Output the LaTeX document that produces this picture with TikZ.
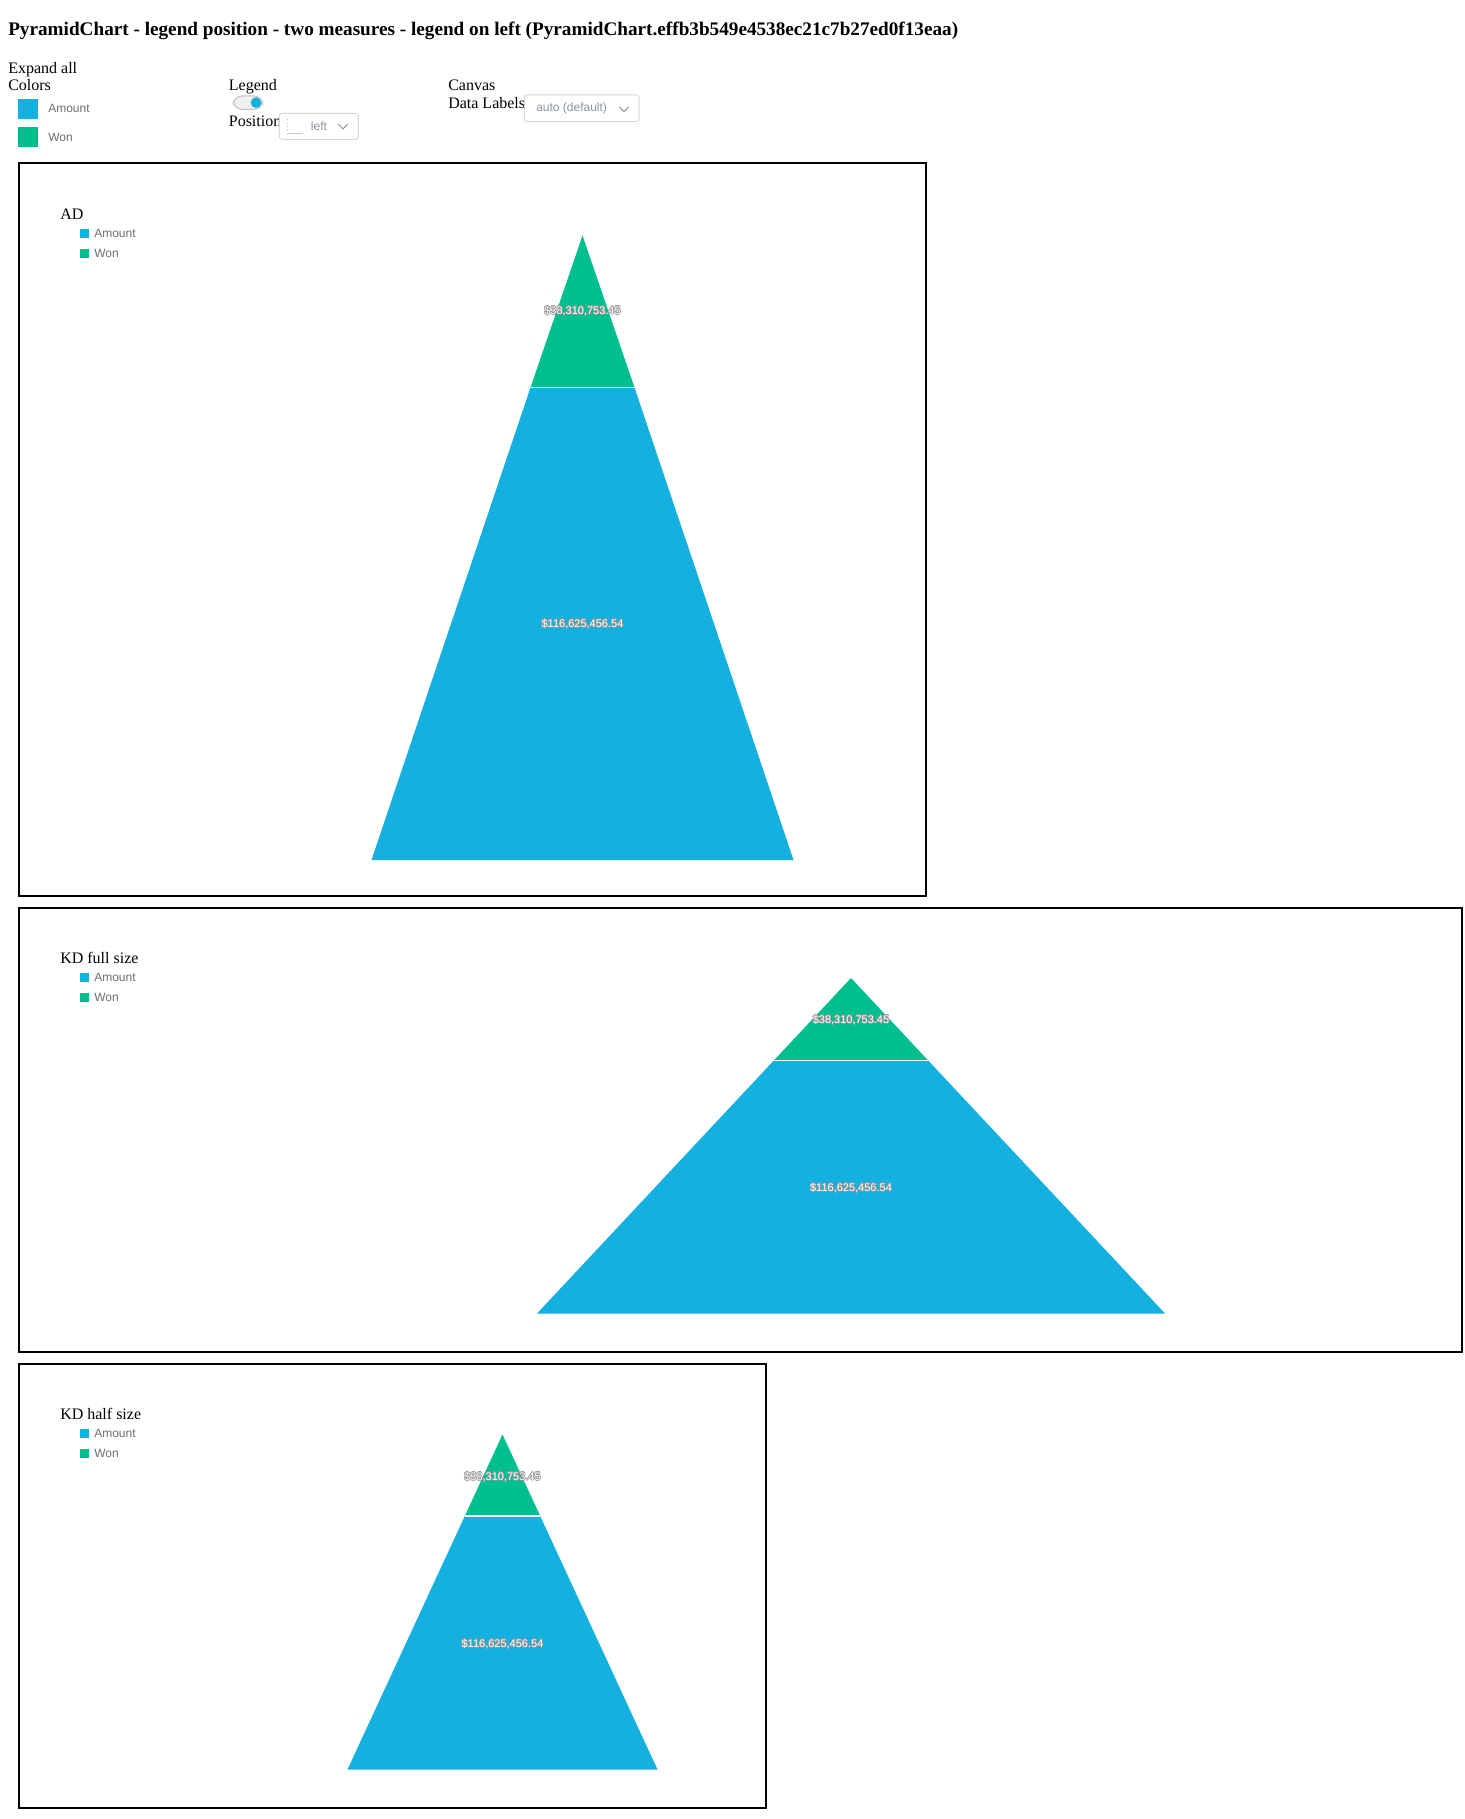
\documentclass[tikz,border=0pt]{standalone}
\usepackage{fontspec}
\setmainfont{Liberation Serif}
\newfontfamily\uifont{Liberation Sans}
\usepackage{color}

\definecolor{amountblue}{RGB}{20,176,224}
\definecolor{wongreen}{RGB}{0,191,142}
\definecolor{legendgray}{RGB}{106,109,112}
\definecolor{fieldgray}{RGB}{137,149,165}
\definecolor{fieldborder}{RGB}{212,217,222}
\definecolor{halogray}{RGB}{150,150,150}

% white value with a thin grey halo round it
\newcommand\halovalue[1]{{\def\halocopy##1##2{\rlap{\kern##1\raisebox{##2}{\textcolor{halogray}{#1}}}}%
  \halocopy{-0.5pt}{0pt}\halocopy{0.5pt}{0pt}\halocopy{0pt}{0.5pt}\halocopy{0pt}{-0.5pt}%
  \halocopy{-0.35pt}{0.35pt}\halocopy{0.35pt}{0.35pt}\halocopy{-0.35pt}{-0.35pt}\halocopy{0.35pt}{-0.35pt}}#1}

\tikzset{
  page text/.style={anchor=base west,inner sep=0pt,font=\fontsize{12}{14}\selectfont},
  ui text/.style={anchor=west,inner sep=0pt,text=legendgray,font=\uifont\fontsize{9}{11}\selectfont},
  field text/.style={anchor=base west,inner sep=0pt,text=fieldgray,font=\uifont\fontsize{9}{11}\selectfont},
  field/.style={draw=fieldborder,fill=white,rounded corners=2pt,line width=0.75pt},
  chevron/.style={draw=fieldgray,line width=0.75pt},
  chart frame/.style={draw=black,line width=1.5pt},
  chart title/.style={anchor=west,inner sep=0pt,font=\fontsize{12}{14}\selectfont},
  data label/.style={inner sep=0pt,text=white,font=\uifont\fontsize{8.25}{10}\selectfont},
  split/.style={draw=white,line width=1pt}
}

\begin{document}
\begin{tikzpicture}[x=0.75pt,y=-0.75pt]
  \useasboundingbox (0,0) rectangle (1464,1819);

  % page header and controls
  \node[anchor=base west,inner sep=0pt,font=\bfseries\fontsize{14.4}{17}\selectfont] (title) at (8,36)
    {PyramidChart - legend position - two measures - legend on left (PyramidChart.effb3b549e4538ec21c7b27ed0f13eaa)};
  \node[page text] (expand) at (8,73.3) {Expand all};
  \node[page text] (colors) at (8,90.7) {Colors};
  \fill[amountblue] (18,99) rectangle (38,118.7);
  \fill[wongreen] (18,127) rectangle (38,146.7);
  \node[ui text] (colamount) at (48,108.7) {Amount};
  \node[ui text] (colwon) at (48,137) {Won};

  \node[page text] (legend) at (228.6,90.7) {Legend};
  \draw[fill=black!6,draw=black!25,line width=0.75pt,rounded corners=6.5pt] (233.3,96) rectangle (262.7,109.3);
  \fill[amountblue] (256,102.7) circle (5.3);
  \node[page text] (position) at (228.6,126.7) {Position};
  \draw[field] (279.3,113.3) rectangle (358.3,139.3);
  \draw[fieldgray!60,line width=0.75pt,dotted] (287.7,119) -- (287.7,134);
  \draw[fieldgray!50,line width=0.75pt] (287.7,134) -- (302.7,134);
  \node[field text] (posvalue) at (310.7,130.7) {left};
  \draw[chevron] (338,124) -- (343,129) -- (347.7,124);

  \node[page text] (canvas) at (448,90.7) {Canvas};
  \node[page text] (datalabels) at (448,109) {Data Labels};
  \draw[field] (524.3,95) rectangle (639,121.7);
  \node[field text] (dlvalue) at (536,112) {auto (default)};
  \draw[chevron] (619.3,106.7) -- (624,111.7) -- (628.7,106.7);

  % chart AD
  \draw[chart frame] (19,163.5) rectangle (926,895.5);
  \node[chart title] (adtitle) at (60,214) {AD};
  \fill[amountblue] (80,229.2) rectangle (89,238.2);
  \fill[wongreen] (80,249.2) rectangle (89,258.2);
  \node[ui text] (adamount) at (94,233.7) {Amount};
  \node[ui text] (adwon) at (94,253.7) {Won};
  \fill[wongreen] (582.5,235.5) -- (634.5,387.5) -- (530.5,387.5) -- cycle;
  \fill[amountblue] (530.5,387.5) -- (634.5,387.5) -- (793.5,860) -- (371.5,860) -- cycle;
  \draw[split] (530.5,387.5) -- (634.5,387.5);
  \node[data label] (adwonval) at (582.5,311) {\halovalue{\$38,310,753.45}};
  \node[data label] (adamountval) at (582.5,624) {\halovalue{\$116,625,456.54}};

  % chart KD full size
  \draw[chart frame] (19,907.5) rectangle (1462,1352);
  \node[chart title] (kdftitle) at (60,958) {KD full size};
  \fill[amountblue] (80,973) rectangle (89,982);
  \fill[wongreen] (80,993) rectangle (89,1002);
  \node[ui text] (kdfamount) at (94,977.5) {Amount};
  \node[ui text] (kdfwon) at (94,997.5) {Won};
  \fill[wongreen] (851,978) -- (928.2,1060.5) -- (773.8,1060.5) -- cycle;
  \fill[amountblue] (773.8,1060.5) -- (928.2,1060.5) -- (1165,1313.5) -- (537,1313.5) -- cycle;
  \draw[split] (773.8,1060.5) -- (928.2,1060.5);
  \node[data label] (kdfwonval) at (851,1020) {\halovalue{\$38,310,753.45}};
  \node[data label] (kdfamountval) at (851,1188) {\halovalue{\$116,625,456.54}};

  % chart KD half size
  \draw[chart frame] (19,1364) rectangle (766,1808);
  \node[chart title] (kdhtitle) at (60,1414) {KD half size};
  \fill[amountblue] (80,1428.7) rectangle (89,1437.7);
  \fill[wongreen] (80,1449) rectangle (89,1458);
  \node[ui text] (kdhamount) at (94,1433.2) {Amount};
  \node[ui text] (kdhwon) at (94,1453.5) {Won};
  \fill[wongreen] (502.5,1434.5) -- (540.2,1516) -- (464.8,1516) -- cycle;
  \fill[amountblue] (464.8,1516) -- (540.2,1516) -- (657.5,1769.5) -- (347.5,1769.5) -- cycle;
  \draw[split] (464.8,1516) -- (540.2,1516);
  \node[data label] (kdhwonval) at (502.5,1477) {\halovalue{\$38,310,753.45}};
  \node[data label] (kdhamountval) at (502.5,1644) {\halovalue{\$116,625,456.54}};
\end{tikzpicture}
\end{document}
